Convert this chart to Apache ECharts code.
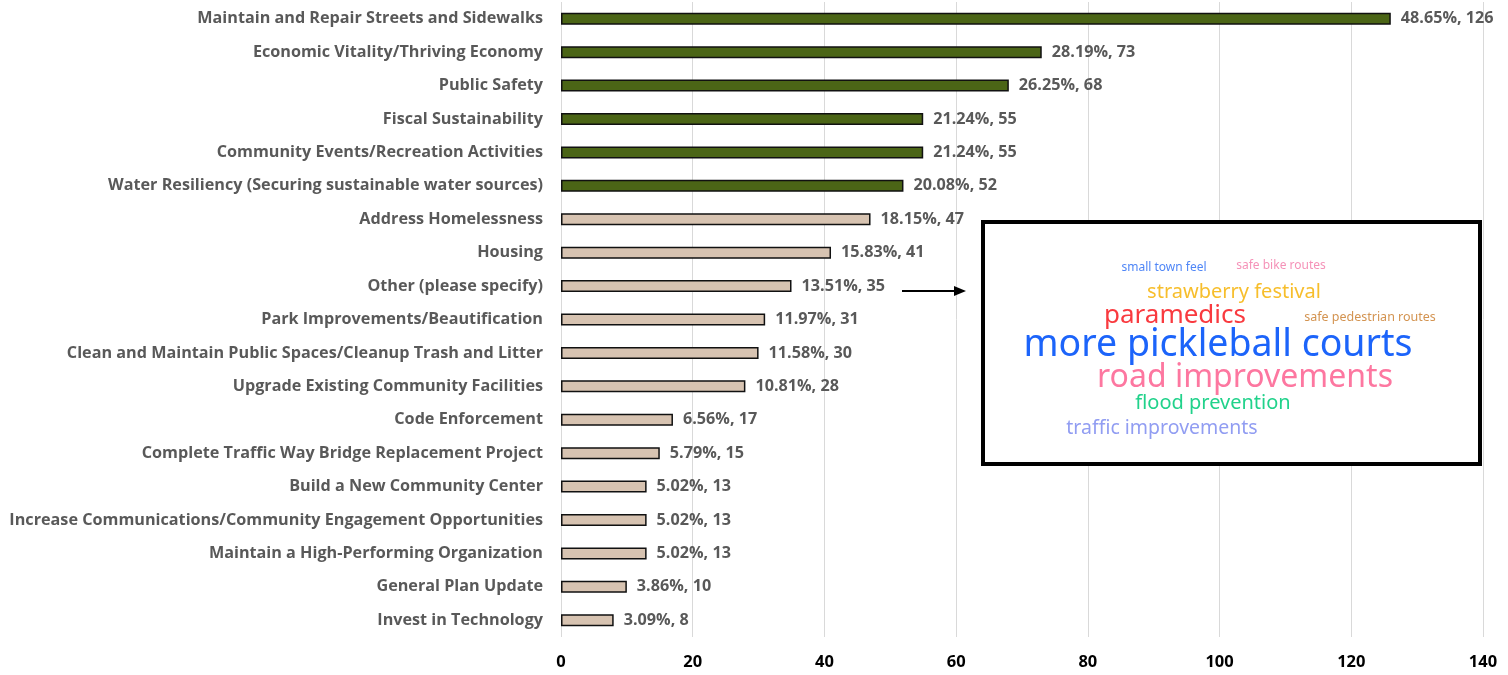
<!DOCTYPE html>
<html>
<head>
<meta charset="utf-8">
<script src="https://cdn.jsdelivr.net/npm/echarts@6/dist/echarts.min.js"></script>
<style>
  html, body { margin: 0; padding: 0; background: #fff; }
  #main { width: 1508px; height: 675px; }
</style>
</head>
<body>
<div id="main"></div>
<script>
// categories, top to bottom
var categories = [
  'Maintain and Repair Streets and Sidewalks',
  'Economic Vitality/Thriving Economy',
  'Public Safety',
  'Fiscal Sustainability',
  'Community Events/Recreation Activities',
  'Water Resiliency (Securing sustainable water sources)',
  'Address Homelessness',
  'Housing',
  'Other (please specify)',
  'Park Improvements/Beautification',
  'Clean and Maintain Public Spaces/Cleanup Trash and Litter',
  'Upgrade Existing Community Facilities',
  'Code Enforcement',
  'Complete Traffic Way Bridge Replacement Project',
  'Build a New Community Center',
  'Increase Communications/Community Engagement Opportunities',
  'Maintain a High-Performing Organization',
  'General Plan Update',
  'Invest in Technology'
]
var counts = [126, 73, 68, 55, 55, 52, 47, 41, 35, 31, 30, 28, 17, 15, 13, 13, 13, 10, 8]
var percents = ['48.65%', '28.19%', '26.25%', '21.24%', '21.24%', '20.08%', '18.15%', '15.83%', '13.51%',
  '11.97%', '11.58%', '10.81%', '6.56%', '5.79%', '5.02%', '5.02%', '5.02%', '3.86%', '3.09%']
// first six are the top priorities (green)
var topCount = 6

// "Other" responses word cloud
var cloudWords = ['small town feel', 'safe bike routes', 'strawberry festival', 'paramedics',
  'safe pedestrian routes', 'more pickleball courts', 'road improvements', 'flood prevention',
  'traffic improvements']

var myChart = echarts.init(document.getElementById('main'))

var barData = counts.map(function (v, i) {
  return {
    value: v,
    itemStyle: { color: i < topCount ? '#4b6516' : '#d7c3b1' }
  }
})

// word cloud layout: [x, y, size, color]
var cloudStyle = [
  [1164, 268, 12, '#4f86f7'],
  [1281, 266, 12, '#f592b8'],
  [1234, 292, 20, '#f7be2c'],
  [1175, 316, 26, '#f93a3f'],
  [1370, 317, 12.5, '#d39350'],
  [1218, 345, 37.5, '#1c64fa'],
  [1245, 378, 32, '#fd77a0'],
  [1213, 403, 20, '#21d28b'],
  [1162, 428, 19.5, '#919df2']
]
var graphics = [
  {
    type: 'rect',
    shape: { x: 983, y: 222, width: 497, height: 242 },
    style: { fill: '#fff', stroke: '#000', lineWidth: 4 },
    z: 10
  },
  {
    type: 'line',
    shape: { x1: 902, y1: 291, x2: 956, y2: 291 },
    style: { stroke: '#000', lineWidth: 2 },
    z: 10
  },
  {
    type: 'polygon',
    shape: { points: [[954, 286], [966, 291], [954, 296]] },
    style: { fill: '#000' },
    z: 10
  }
]
cloudWords.forEach(function (w, i) {
  var s = cloudStyle[i]
  graphics.push({
    type: 'text',
    x: s[0],
    y: s[1],
    z: 11,
    style: {
      text: w,
      fill: s[3],
      font: 'normal ' + s[2] + 'px "Noto Sans"',
      textAlign: 'center',
      textVerticalAlign: 'middle'
    }
  })
})

var option = {
  animation: false,
  grid: { left: 561, right: 25, top: 2, bottom: 38, containLabel: false },
  xAxis: {
    type: 'value',
    min: 0,
    max: 140,
    interval: 20,
    axisLine: { show: false },
    axisTick: { show: false },
    axisLabel: {
      color: '#000',
      fontFamily: 'Open Sans',
      fontWeight: 'bold',
      fontSize: 16.5,
      margin: 17
    },
    splitLine: { show: true, lineStyle: { color: '#d9d9d9', width: 1 } }
  },
  yAxis: {
    type: 'category',
    inverse: true,
    data: categories,
    axisLine: { show: false },
    axisTick: { show: false },
    axisLabel: {
      color: '#595959',
      fontFamily: 'Open Sans',
      fontWeight: 'bold',
      fontSize: 16.2,
      margin: 18
    }
  },
  series: [
    {
      type: 'bar',
      data: barData,
      barWidth: 12,
      itemStyle: { borderColor: '#111', borderWidth: 1.5 },
      label: {
        show: true,
        position: 'right',
        distance: 10,
        color: '#595959',
        fontFamily: 'Open Sans',
        fontWeight: 'bold',
        fontSize: 16.2,
        formatter: function (p) {
          return percents[p.dataIndex] + ', ' + p.value
        }
      }
    }
  ],
  graphic: graphics
}

myChart.setOption(option)
</script>
</body>
</html>
